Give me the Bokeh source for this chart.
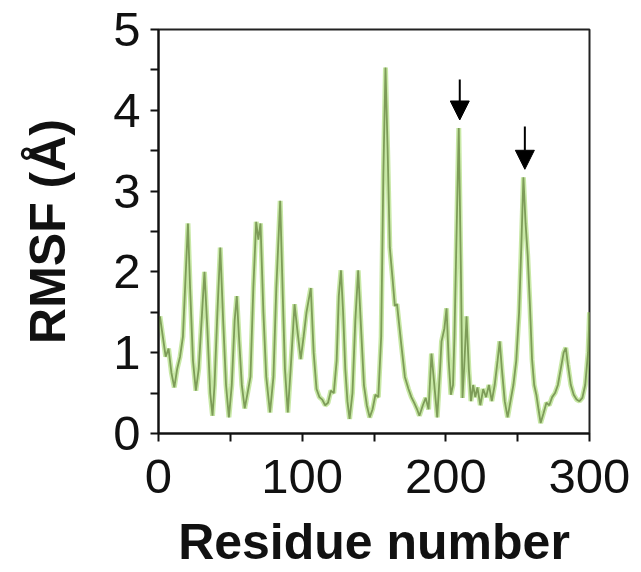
from bokeh.plotting import figure
from bokeh.models import ColumnDataSource, FixedTicker, Range1d, Arrow, NormalHead
from bokeh.embed import file_html
from bokeh.resources import INLINE

# Residue number / RMSF (Å) vertices
residue = [1, 3, 5, 7, 9, 11, 13, 15, 17, 19, 20.5, 22, 24, 26, 28, 30, 32, 34, 36, 37.6,
           39, 41, 43, 45, 47, 49, 51, 53, 54.5, 56, 58, 60, 62, 64, 66, 68, 69.5, 71, 73, 75,
           77.6, 80, 82, 84.7, 86.5, 88, 90, 92, 94.7, 96.5, 99, 101, 103, 106, 108, 110, 112,
           114, 116, 118, 120, 122, 124, 125.5, 127, 128.5, 130, 131.5, 133, 135, 137, 139, 141,
           143, 145, 147, 149, 151, 153, 155, 156.5, 158, 159.5, 161, 163, 164.5, 166, 167.5,
           169, 171.5, 174, 176, 178, 180, 181.6, 184, 186, 188, 190, 192, 194, 196, 197, 199,
           200.5, 202, 203.5, 205, 206, 207.5, 209, 210.5, 211.6, 213, 214.4, 216, 217.5, 219,
           220.5, 222, 224, 226, 228, 230, 232, 234, 236, 237.5, 239, 241, 243, 245, 247, 249,
           251, 252.5, 254, 255.5, 257, 258.5, 260, 261.5, 263, 264.5, 266, 268, 270, 272, 274,
           276, 278, 280, 282, 283.5, 285, 287, 289, 291, 293, 295, 297, 299, 300]
rmsf = [1.45, 1.2, 0.95, 1.05, 0.75, 0.57, 0.8, 0.95, 1.2, 2.0, 2.6, 1.8, 0.9, 0.53, 0.8, 1.4,
        2.0, 1.3, 0.5, 0.22, 0.6, 1.5, 2.3, 1.4, 0.6, 0.2, 0.6, 1.4, 1.7, 1.2, 0.6, 0.31, 0.5,
        0.7, 1.8, 2.62, 2.4, 2.6, 1.5, 0.7, 0.26, 0.7, 1.8, 2.88, 1.7, 0.8, 0.26, 0.8, 1.6, 1.3,
        0.92, 1.2, 1.5, 1.8, 1.0, 0.55, 0.45, 0.42, 0.35, 0.38, 0.53, 0.5, 0.9, 1.7, 2.02, 1.5,
        0.8, 0.4, 0.18, 0.5, 1.4, 2.02, 1.3, 0.6, 0.35, 0.2, 0.3, 0.48, 0.45, 1.2, 3.2, 4.53,
        3.5, 2.3, 1.9, 1.58, 1.6, 1.35, 1.1, 0.7, 0.55, 0.45, 0.38, 0.3, 0.22, 0.35, 0.44, 0.3,
        0.99, 0.6, 0.2, 0.8, 1.14, 1.3, 1.55, 0.9, 0.48, 0.6, 1.2, 2.5, 3.78, 2.0, 0.44, 0.9,
        1.45, 0.8, 0.4, 0.6, 0.45, 0.57, 0.35, 0.55, 0.45, 0.6, 0.4, 0.6, 0.9, 1.14, 0.8, 0.4,
        0.2, 0.4, 0.6, 0.9, 1.5, 2.3, 3.17, 2.6, 2.2, 1.6, 0.92, 0.6, 0.48, 0.3, 0.13, 0.25,
        0.38, 0.35, 0.45, 0.5, 0.6, 0.8, 1.0, 1.06, 0.85, 0.6, 0.48, 0.42, 0.4, 0.44, 0.6, 1.0,
        1.5]

# Arrows marking peaks
arrow_x = [209.7, 255.0]
arrow_tail = [4.38, 3.80]
arrow_tip = [3.88, 3.27]

x_ticks = [0, 100, 200, 300]
x_minor = [50, 150, 250]
y_ticks = [0, 1, 2, 3, 4, 5]
y_minor = [0.5, 1.5, 2.5, 3.5, 4.5]

FONT = "Liberation Sans"

p = figure(width=641, height=572, output_backend="svg", toolbar_location=None,
           x_range=Range1d(0, 300), y_range=Range1d(0, 5),
           min_border_left=158, min_border_right=52, min_border_top=29,
           min_border_bottom=132)

p.xgrid.visible = False
p.ygrid.visible = False
p.outline_line_color = "#222222"
p.outline_line_width = 2
p.background_fill_color = "white"
p.border_fill_color = "white"

src = ColumnDataSource(dict(x=residue, y=rmsf))
p.line("x", "y", source=src, line_color="#9bd65c", line_width=5, line_alpha=0.55)
p.line("x", "y", source=src, line_color="#7d9c58", line_width=1.8)

for xa, yt, yh in zip(arrow_x, arrow_tail, arrow_tip):
    p.add_layout(Arrow(x_start=xa, y_start=yt, x_end=xa, y_end=yh,
                       line_color="black", line_width=2,
                       end=NormalHead(size=19, fill_color="black", line_color="black")))

p.xaxis.ticker = FixedTicker(ticks=x_ticks, minor_ticks=x_minor)
p.yaxis.ticker = FixedTicker(ticks=y_ticks, minor_ticks=y_minor)

for ax in (p.xaxis[0], p.yaxis[0]):
    ax.axis_line_color = "#111111"
    ax.axis_line_width = 2
    ax.major_tick_line_color = "#111111"
    ax.minor_tick_line_color = "#111111"
    ax.major_tick_line_width = 2
    ax.minor_tick_line_width = 2
    ax.major_tick_in = 0
    ax.major_tick_out = 8
    ax.minor_tick_in = 0
    ax.minor_tick_out = 8
    ax.major_label_text_font = FONT
    ax.major_label_text_font_size = "49px"
    ax.major_label_text_color = "#111111"
    ax.axis_label_text_font = FONT
    ax.axis_label_text_font_style = "bold"
    ax.axis_label_text_font_size = "50px"
    ax.axis_label_text_color = "#111111"

p.xaxis.axis_label = "Residue number"
p.yaxis.axis_label = "RMSF (Å)"
p.xaxis.major_label_standoff = 18
p.xaxis.axis_label_standoff = 18
p.yaxis.major_label_standoff = 10
p.yaxis.axis_label_standoff = 34

open("out.html", "w").write(file_html(p, INLINE))
